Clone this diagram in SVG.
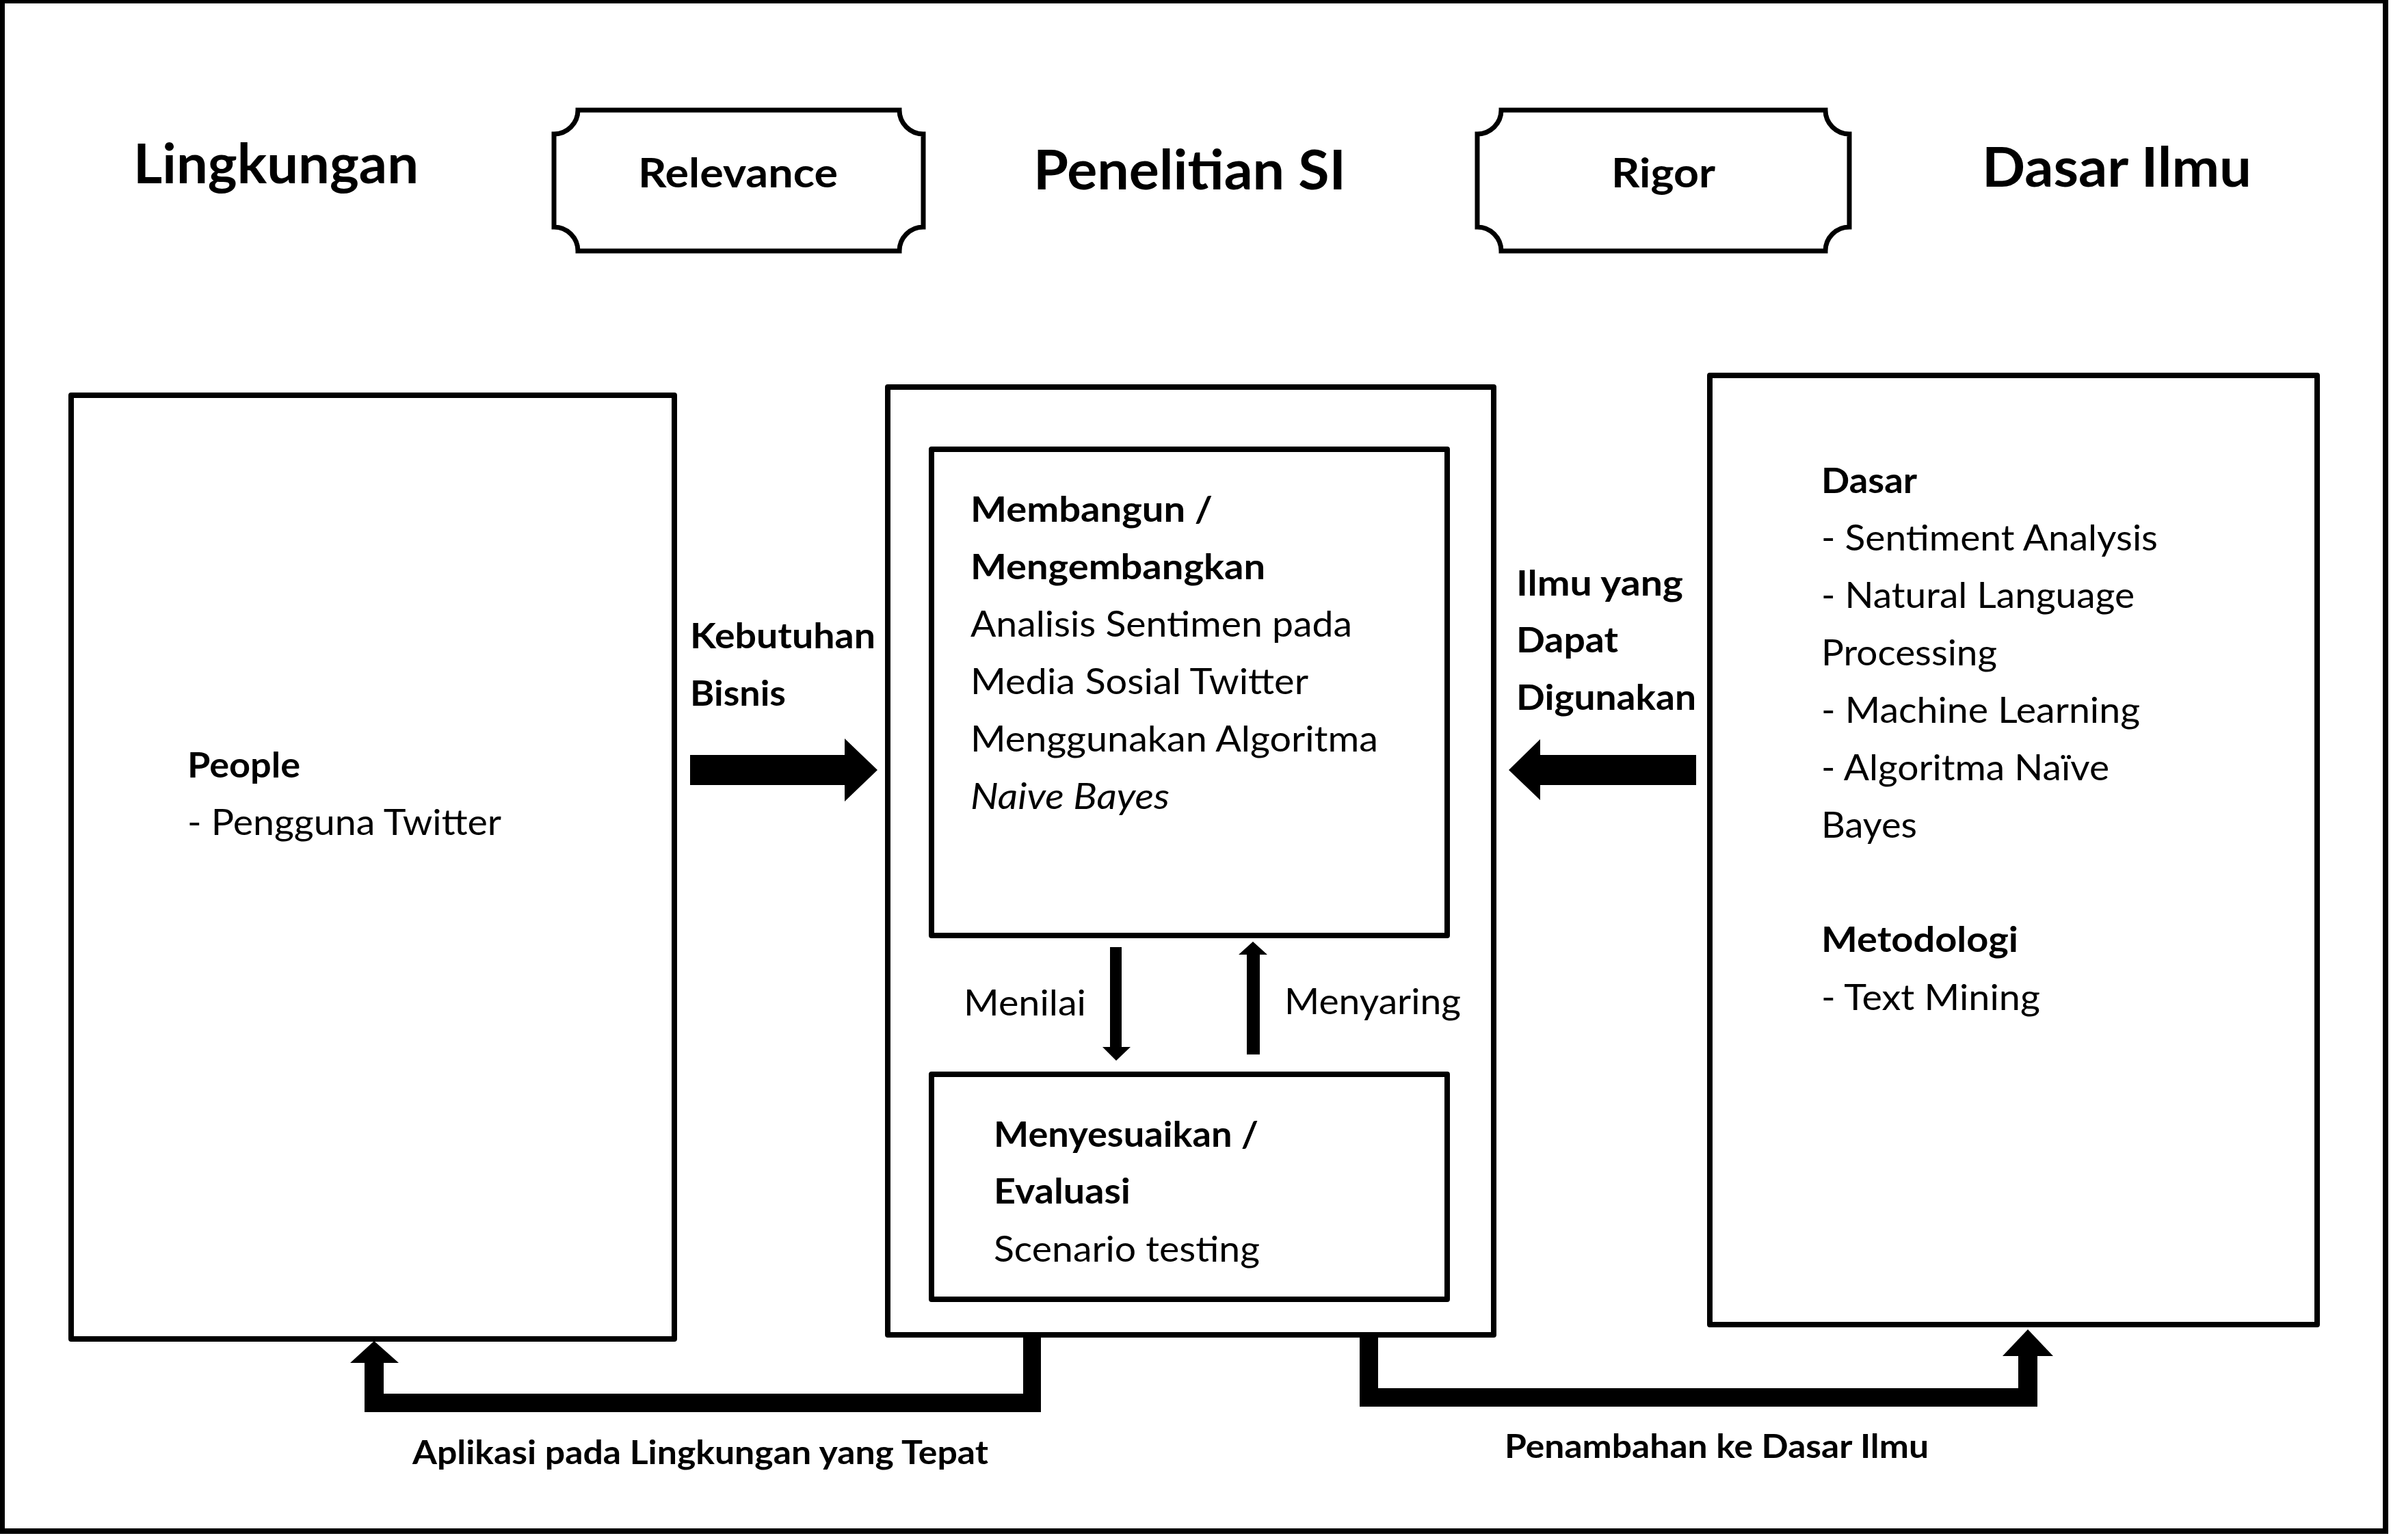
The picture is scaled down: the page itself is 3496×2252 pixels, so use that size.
<svg xmlns="http://www.w3.org/2000/svg" width="3496" height="2252" viewBox="0 0 3496 2252">
<style>
.box{fill:#fff;stroke:#000;stroke-width:8;stroke-linejoin:round}
.plq{fill:#fff;stroke:#000;stroke-width:7}
.t{font-family:Lato,"Open Sans","Liberation Sans",sans-serif;font-size:52px;fill:#000}
.b{font-weight:bold}
.i{font-style:italic}
.h{font-family:Lato,"Open Sans","Liberation Sans",sans-serif;font-weight:bold;font-size:80px;fill:#000}
.p{font-family:Lato,"Open Sans","Liberation Sans",sans-serif;font-weight:bold;font-size:59px;fill:#000}
.l{font-family:Lato,"Open Sans","Liberation Sans",sans-serif;font-weight:bold;font-size:47px;fill:#000}
.c{fill:#000;stroke:none}
</style>
<rect x="0" y="0" width="3496" height="2252" fill="#fff"/>
<rect id="frame" x="3" y="1" width="3485" height="2238" fill="none" stroke="#000" stroke-width="8"/>

<g id="header-lingkungan"><text class="h" x="195" y="268" textLength="417" lengthAdjust="spacingAndGlyphs">Lingkungan</text></g>
<g id="relevance">
<path class="plq" d="M845,161 H1315 A35 35 0 0 0 1350,196 V332 A35 35 0 0 0 1315,367 H845 A35 35 0 0 0 810,332 V196 A35 35 0 0 0 845,161 Z"/>
<text class="p" x="933" y="274" textLength="292" lengthAdjust="spacingAndGlyphs">Relevance</text>
</g>
<g id="header-penelitian"><text class="h" x="1511" y="277" textLength="457" lengthAdjust="spacingAndGlyphs">Penelitian SI</text></g>
<g id="rigor">
<path class="plq" d="M2195,161 H2669 A35 35 0 0 0 2704,196 V332 A35 35 0 0 0 2669,367 H2195 A35 35 0 0 0 2160,332 V196 A35 35 0 0 0 2195,161 Z"/>
<text class="p" x="2356" y="274" textLength="152" lengthAdjust="spacingAndGlyphs">Rigor</text>
</g>
<g id="header-dasar"><text class="h" x="2898" y="273" textLength="394" lengthAdjust="spacingAndGlyphs">Dasar Ilmu</text></g>

<g id="lingkungan">
<rect class="box" x="104" y="578" width="882" height="1380"/>
<text class="t b" x="274" y="1137" textLength="165" lengthAdjust="spacingAndGlyphs">People</text>
<text class="t" x="274" y="1221" textLength="459" lengthAdjust="spacingAndGlyphs">- Pengguna Twitter</text>
</g>

<g id="penelitian">
<rect class="box" x="1298" y="566" width="886" height="1386"/>
</g>
<g id="membangun">
<rect class="box" x="1362" y="657" width="754" height="711"/>
<text class="t b" x="1419" y="763" textLength="354" lengthAdjust="spacingAndGlyphs">Membangun /</text>
<text class="t b" x="1419" y="847" textLength="431" lengthAdjust="spacingAndGlyphs">Mengembangkan</text>
<text class="t" x="1419" y="931" textLength="558" lengthAdjust="spacingAndGlyphs">Analisis Sentimen pada</text>
<text class="t" x="1419" y="1015" textLength="494" lengthAdjust="spacingAndGlyphs">Media Sosial Twitter</text>
<text class="t" x="1419" y="1099" textLength="596" lengthAdjust="spacingAndGlyphs">Menggunakan Algoritma</text>
<text class="t i" x="1419" y="1183" textLength="291" lengthAdjust="spacingAndGlyphs">Naive Bayes</text>
</g>
<g id="evaluasi">
<rect class="box" x="1362" y="1571" width="754" height="329"/>
<text class="t b" x="1453" y="1677" textLength="387" lengthAdjust="spacingAndGlyphs">Menyesuaikan /</text>
<text class="t b" x="1453" y="1760" textLength="200" lengthAdjust="spacingAndGlyphs">Evaluasi</text>
<text class="t" x="1453" y="1845" textLength="389" lengthAdjust="spacingAndGlyphs">Scenario testing</text>
</g>

<g id="dasar-ilmu">
<rect class="box" x="2500" y="549" width="888" height="1388"/>
<text class="t b" x="2663" y="721" textLength="140" lengthAdjust="spacingAndGlyphs">Dasar</text>
<text class="t" x="2663" y="805" textLength="492" lengthAdjust="spacingAndGlyphs">- Sentiment Analysis</text>
<text class="t" x="2663" y="889" textLength="458" lengthAdjust="spacingAndGlyphs">- Natural Language</text>
<text class="t" x="2663" y="973" textLength="257" lengthAdjust="spacingAndGlyphs">Processing</text>
<text class="t" x="2663" y="1057" textLength="466" lengthAdjust="spacingAndGlyphs">- Machine Learning</text>
<text class="t" x="2663" y="1141" textLength="421" lengthAdjust="spacingAndGlyphs">- Algoritma Naïve</text>
<text class="t" x="2663" y="1225" textLength="140" lengthAdjust="spacingAndGlyphs">Bayes</text>
<text class="t b" x="2663" y="1392" textLength="288" lengthAdjust="spacingAndGlyphs">Metodologi</text>
<text class="t" x="2663" y="1477" textLength="320" lengthAdjust="spacingAndGlyphs">- Text Mining</text>
</g>

<g id="connectors">
<polygon class="c" points="1009,1104 1235,1104 1235,1080 1283,1126 1235,1172 1235,1148 1009,1148"/>
<text class="t b" x="1009" y="948" textLength="271" lengthAdjust="spacingAndGlyphs">Kebutuhan</text>
<text class="t b" x="1009" y="1032" textLength="140" lengthAdjust="spacingAndGlyphs">Bisnis</text>

<polygon class="c" points="2480,1104 2252,1104 2252,1081 2206,1126 2252,1170 2252,1148 2480,1148"/>
<text class="t b" x="2217" y="871" textLength="244" lengthAdjust="spacingAndGlyphs">Ilmu yang</text>
<text class="t b" x="2217" y="954" textLength="149" lengthAdjust="spacingAndGlyphs">Dapat</text>
<text class="t b" x="2217" y="1038" textLength="263" lengthAdjust="spacingAndGlyphs">Digunakan</text>

<polygon class="c" points="1623,1385 1640,1385 1640,1531 1653,1531 1632,1551 1612,1531 1623,1531"/>
<text class="t" x="1409" y="1485" textLength="179" lengthAdjust="spacingAndGlyphs">Menilai</text>
<polygon class="c" points="1823,1542 1842,1542 1842,1396 1853,1396 1832,1377 1811,1396 1823,1396"/>
<text class="t" x="1878" y="1483" textLength="258" lengthAdjust="spacingAndGlyphs">Menyaring</text>

<polygon class="c" points="1496,1955 1522,1955 1522,2065 533,2065 533,1992 561,1992 561,2038 1496,2038"/>
<polygon class="c" points="512,1993 583,1993 547,1961"/>
<text class="l" x="603" y="2141" textLength="842" lengthAdjust="spacingAndGlyphs">Aplikasi pada Lingkungan yang Tepat</text>

<polygon class="c" points="1988,1955 2015,1955 2015,2030 2951,2030 2951,1982 2979,1982 2979,2057 1988,2057"/>
<polygon class="c" points="2928,1983 3002,1983 2965,1944"/>
<text class="l" x="2200" y="2132" textLength="620" lengthAdjust="spacingAndGlyphs">Penambahan ke Dasar Ilmu</text>
</g>
</svg>
